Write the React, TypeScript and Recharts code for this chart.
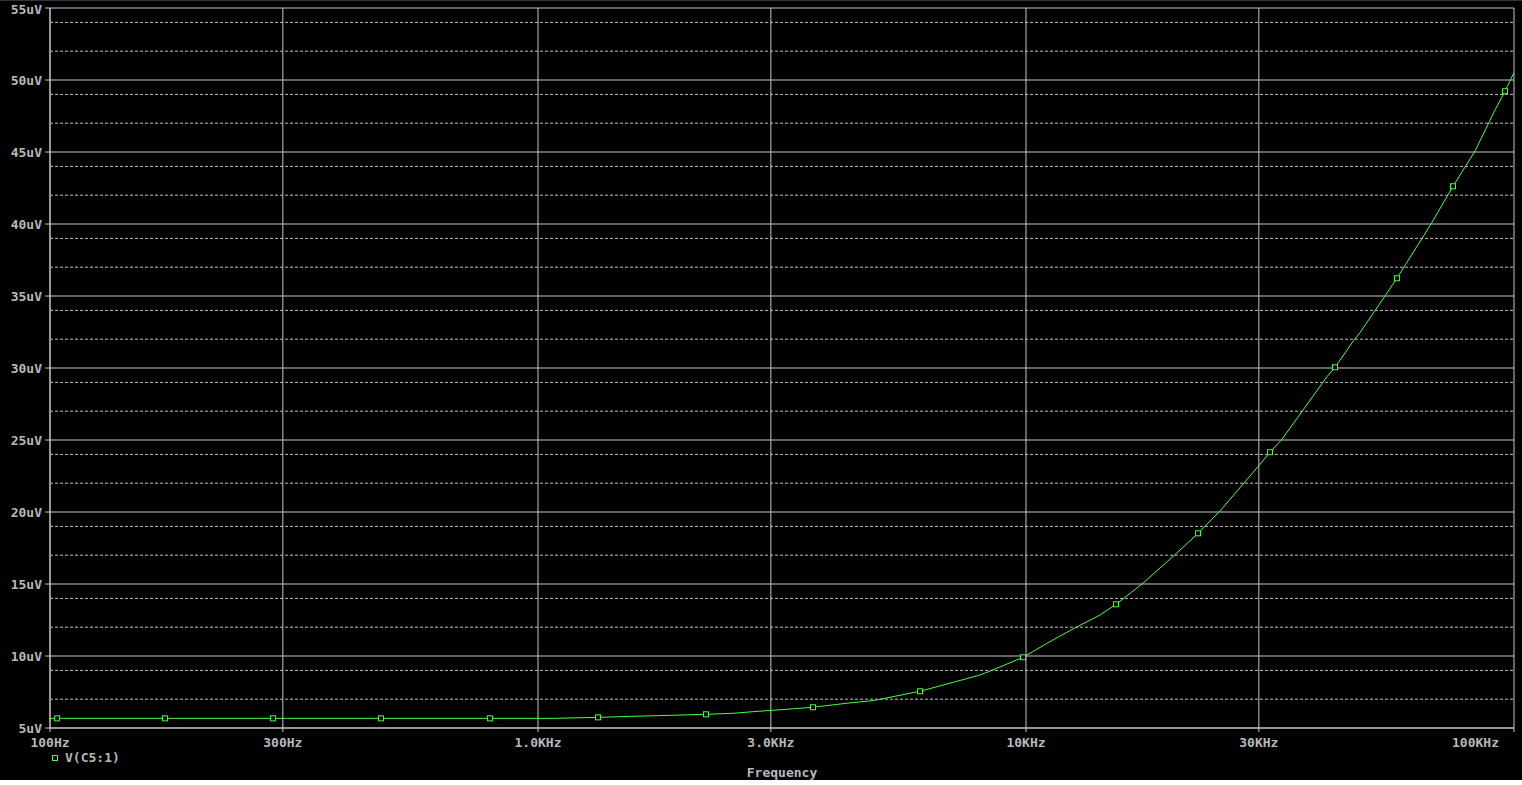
import {
  CartesianGrid,
  ComposedChart,
  Label,
  Legend,
  Line,
  Scatter,
  XAxis,
  YAxis,
} from 'recharts'

// frequency sweep (Hz) and V(C5:1) in uV
const freqs = [
  100, 1073, 1327, 1558, 1865, 2209, 2509, 2824, 3237, 3661, 4297, 4859, 6065, 8050, 8720,
  9859, 11040, 12310, 14180, 15290, 17360, 19640, 20680, 22520, 24980, 29880, 31620,
  33460, 36950, 41380, 42970, 46990, 48340, 54390, 57560, 67590, 74990, 83210, 91440, 95850,
  100000,
]
const volts = [
  5.67, 5.67, 5.74, 5.81, 5.88, 5.95, 6.02, 6.16, 6.3, 6.44, 6.72, 6.9, 7.55, 8.68, 9.15,
  9.91, 10.88, 11.77, 12.85, 13.59, 15.05, 16.67, 17.36, 18.52, 20.07, 23.15, 24.15,
  25.05, 27.08, 29.4, 30.05, 31.94, 32.45, 35.0, 36.23, 40.0, 42.62, 45.07, 47.92, 49.22,
  50.51,
]

// marker squares drawn along the trace
const markerFreqs = [
  103.4, 172.1, 286.3, 476.7, 797, 1327, 2209, 3661, 6065, 9859, 15290, 22520, 31620, 42970,
  57560, 74990, 95850,
]
const markerVolts = [
  5.67, 5.67, 5.67, 5.67, 5.67, 5.74, 5.95, 6.44, 7.55, 9.91, 13.59, 18.52, 24.15, 30.05,
  36.23, 42.62, 49.22,
]

const xTicks = [100, 300, 1000, 3000, 10000, 30000, 100000]
const xTickLabels = ['100Hz', '300Hz', '1.0KHz', '3.0KHz', '10KHz', '30KHz', '100KHz']
const yTicks = [5, 10, 15, 20, 25, 30, 35, 40, 45, 50, 55]
const yMinor = [
  6, 7, 8, 9, 11, 12, 13, 14, 16, 17, 18, 19, 21, 22, 23, 24, 26, 27, 28, 29, 31, 32, 33, 34,
  36, 37, 38, 39, 41, 42, 43, 44, 46, 47, 48, 49, 51, 52, 53, 54,
]

const trace = freqs.map((f, i) => ({ f, v: volts[i] }))
const markers = markerFreqs.map((f, i) => ({ f, v: markerVolts[i] }))

const GREEN = '#44ff44'
const GRID = '#c8c8c8'
const TEXT = '#b8b8b8'
const FONT = '"DejaVu Sans Mono", monospace'

function XTick({ x, y, payload }: any) {
  const idx = xTicks.indexOf(payload.value)
  const last = idx === xTicks.length - 1
  return (
    <text
      x={last ? x + 1 : x}
      y={y + 13}
      textAnchor={last ? 'end' : 'middle'}
      fill={TEXT}
      fontSize={13}
      fontWeight="bold"
      fontFamily={FONT}
    >
      {xTickLabels[idx]}
    </text>
  )
}

function YTick({ x, y, payload }: any) {
  return (
    <text
      x={x - 1}
      y={y + 5}
      textAnchor="end"
      fill={TEXT}
      fontSize={13}
      fontWeight="bold"
      fontFamily={FONT}
    >
      {`${payload.value}uV`}
    </text>
  )
}

function Square({ cx, cy }: any) {
  return (
    <rect
      x={cx - 2.5}
      y={cy - 2.5}
      width={5}
      height={5}
      fill="#000"
      stroke={GREEN}
      strokeWidth={1}
    />
  )
}

function TraceLegend() {
  return (
    <svg width={80} height={16} style={{ display: 'block' }}>
      <rect x={2.5} y={5.5} width={5} height={5} fill="none" stroke={GREEN} strokeWidth={1} />
      <text x={15} y={12} fill={TEXT} fontSize={13} fontWeight="bold" fontFamily={FONT}>
        V(C5:1)
      </text>
    </svg>
  )
}

export default function App() {
  return (
    <div
      style={{
        position: 'absolute',
        top: 0,
        left: 0,
        width: 1522,
        height: 780,
        background: '#000',
        boxShadow: 'inset 0 1px 0 #3a2d42',
      }}
    >
      <ComposedChart width={1522} height={780} margin={{ top: 8, right: 8, bottom: 0, left: 0 }}>
        <CartesianGrid
          horizontalValues={yMinor}
          vertical={false}
          stroke="#c8bcc8"
          strokeDasharray="3 2"
        />
        <CartesianGrid stroke={GRID} />
        <XAxis
          dataKey="f"
          type="number"
          scale="log"
          domain={[100, 100000]}
          ticks={xTicks}
          allowDataOverflow
          height={52}
          tickSize={4}
          axisLine={{ stroke: GRID }}
          tickLine={{ stroke: GRID }}
          tick={<XTick />}
        >
          <Label
            content={({ viewBox }: any) => (
              <text
                x={viewBox.x + viewBox.width / 2}
                y={viewBox.y + viewBox.height - 3}
                textAnchor="middle"
                fill={TEXT}
                fontSize={13}
                fontWeight="bold"
                fontFamily={FONT}
              >
                Frequency
              </text>
            )}
          />
        </XAxis>
        <YAxis
          dataKey="v"
          type="number"
          domain={[5, 55]}
          ticks={yTicks}
          width={50}
          tickSize={5}
          axisLine={{ stroke: GRID }}
          tickLine={{ stroke: GRID }}
          tick={<YTick />}
        />
        <Line
          data={trace}
          dataKey="v"
          type="linear"
          stroke={GREEN}
          strokeWidth={1}
          dot={false}
          activeDot={false}
          isAnimationActive={false}
        />
        <Scatter data={markers} dataKey="v" shape={<Square />} isAnimationActive={false} />
        <Legend
          layout="horizontal"
          align="center"
          verticalAlign="middle"
          wrapperStyle={{ left: 50, top: 750, width: 'auto' }}
          content={<TraceLegend />}
        />
      </ComposedChart>
    </div>
  )
}
